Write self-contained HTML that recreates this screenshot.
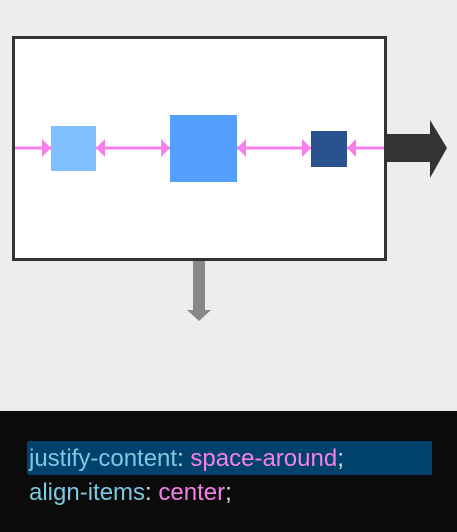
<!DOCTYPE html>
<html><head><meta charset="utf-8"><style>
html,body{margin:0;padding:0;}
body{width:457px;height:532px;background:#ededed;position:relative;overflow:hidden;font-family:"Liberation Sans",Arial,sans-serif;}
.abs{position:absolute;}
.code{font-size:24px;line-height:34px;color:#ddd;}
.k{color:#7ec8e3}.v{color:#f77fea}
</style></head><body>
<svg class="abs" style="left:0;top:0" width="457" height="411">
  <rect x="13.5" y="37.5" width="372" height="222" fill="#fff" stroke="#333" stroke-width="3"/>
  <line x1="15" y1="148" x2="384" y2="148" stroke="#f77fea" stroke-width="3"/>
  <g fill="#f77fea">
    <polygon points="42,139 51,148 42,157"/>
    <polygon points="105,139 96,148 105,157"/>
    <polygon points="161,139 170,148 161,157"/>
    <polygon points="246,139 237,148 246,157"/>
    <polygon points="302,139 311,148 302,157"/>
    <polygon points="356,139 347,148 356,157"/>
  </g>
  <rect x="51" y="126" width="45" height="45" fill="#80bfff"/>
  <rect x="170" y="115" width="67" height="67" fill="#55a0ff"/>
  <rect x="311" y="131" width="36" height="36" fill="#29528e"/>
  <polygon points="387,134 430,134 430,120 447,148 430,178 430,162 387,162" fill="#333"/>
  <polygon points="193,261 205,261 205,310 211,310 199,321 187,310 193,310" fill="#888"/>
</svg>
<div class="abs" style="left:0;top:411px;width:457px;height:121px;background:#0b0b0b;">
  <div class="abs" style="left:27px;top:30px;width:405px;height:34px;background:#00426b;border-radius:2px;"></div>
  <div class="abs code" style="left:29px;top:31px;"><span class="k">justify-content</span>: <span class="v">space-around</span>;</div>
  <div class="abs code" style="left:29px;top:65px;"><span class="k">align-items</span>: <span class="v">center</span>;</div>
</div>
</body></html>
